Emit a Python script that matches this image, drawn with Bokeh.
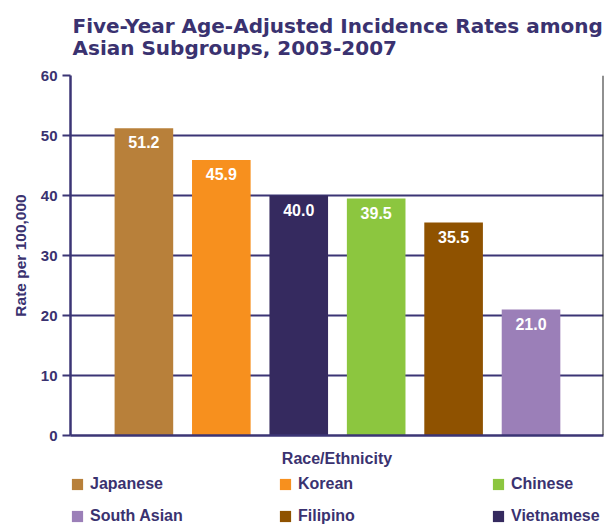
from bokeh.plotting import figure
from bokeh.layouts import column
from bokeh.models import Range1d, Legend, LegendItem, ColumnDataSource, Title, Span, LabelSet, FixedTicker
from bokeh.core.properties import value
from bokeh.embed import file_html
from bokeh.resources import INLINE

categories = ["Japanese", "Korean", "Vietnamese", "Chinese", "Filipino", "South Asian"]
rates = [51.2, 45.9, 40.0, 39.5, 35.5, 21.0]
colors = ["#B8803A", "#F7901E", "#352A5F", "#8CC63F", "#8F5200", "#9B7FB8"]
labels = ["%.1f" % v for v in rates]
y_ticks = [0, 10, 20, 30, 40, 50, 60]

TXT = "#3A3270"
LINE = "#3B3575"
FONT = "Liberation Sans"

src = ColumnDataSource(dict(x=list(range(1, len(categories) + 1)), top=rates,
                            color=colors, name=categories, lab=labels))

p = figure(width=608, height=470, output_backend="svg", toolbar_location=None,
           x_range=Range1d(0.052, 6.936), y_range=Range1d(0, 60),
           min_border_left=70, min_border_right=5, min_border_top=75, min_border_bottom=35)
p.title = Title(text="Five-Year Age-Adjusted Incidence Rates among\nAsian Subgroups, 2003-2007",
                text_font="DejaVu Sans", text_font_size="20px", text_font_style="bold",
                text_color=TXT, align="left", vertical_align="top", offset=2, standoff=27,
                text_line_height=0.93)

p.vbar(x="x", top="top", width=0.757, fill_color="color", line_color=None, source=src)

p.add_layout(LabelSet(x="x", y="top", text="lab", source=src, text_color="white",
                      text_font=value(FONT), text_font_size="16px", text_font_style="bold",
                      text_align="center", text_baseline="top", y_offset=-8))

p.outline_line_color = None
p.add_layout(Span(location=6.936, dimension="height", line_color="#222222", line_width=2))

p.xgrid.grid_line_color = None
p.ygrid.grid_line_color = LINE
p.ygrid.grid_line_width = 2
p.yaxis.ticker = FixedTicker(ticks=y_ticks)
p.yaxis.axis_line_color = LINE
p.yaxis.axis_line_width = 2.5
p.yaxis.major_tick_line_color = LINE
p.yaxis.major_tick_line_width = 2
p.yaxis.major_tick_out = 8
p.yaxis.major_tick_in = 0
p.yaxis.minor_tick_line_color = None
p.yaxis.major_label_text_font = FONT
p.yaxis.major_label_text_font_size = "15px"
p.yaxis.major_label_text_font_style = "bold"
p.yaxis.major_label_text_color = TXT
p.yaxis.major_label_standoff = 5
p.yaxis.axis_label = "Rate per 100,000"
p.yaxis.axis_label_text_font = FONT
p.yaxis.axis_label_text_font_size = "15.5px"
p.yaxis.axis_label_text_font_style = "bold"
p.yaxis.axis_label_text_color = TXT
p.yaxis.axis_label_standoff = 9

p.xaxis.ticker = FixedTicker(ticks=[])
p.xaxis.major_label_text_font_size = "0px"
p.xaxis.axis_line_color = LINE
p.xaxis.axis_line_width = 2.5
p.xaxis.major_tick_line_color = None
p.xaxis.major_tick_out = 0
p.xaxis.minor_tick_line_color = None
p.xaxis.minor_tick_out = 0
p.xaxis.axis_label = "Race/Ethnicity"
p.xaxis.axis_label_text_font = FONT
p.xaxis.axis_label_text_font_size = "16px"
p.xaxis.axis_label_text_font_style = "bold"
p.xaxis.axis_label_text_color = TXT
p.xaxis.axis_label_standoff = 14

# legend strip below the chart (its frame is aligned with the chart's frame)
q = figure(width=608, height=55, output_backend="svg", toolbar_location=None,
           x_range=Range1d(0, 1), y_range=Range1d(100, 200),
           min_border_left=70, min_border_right=5, min_border_top=0, min_border_bottom=0)
q.axis.visible = False
q.grid.visible = False
q.outline_line_color = None
rq = q.vbar(x="x", top="top", width=0.757, fill_color="color", line_color=None, source=src)

columns = [[0, 5], [1, 4], [3, 2]]
xs = [0, 208, 421]
for col, lx in zip(columns, xs):
    items = [LegendItem(label=categories[i], renderers=[rq], index=i) for i in col]
    leg = Legend(items=items, location=(lx, 0), orientation="vertical",
                 glyph_width=14, glyph_height=14, label_height=18, spacing=14,
                 label_standoff=6, padding=0, margin=0, border_line_color=None,
                 background_fill_alpha=0, label_text_font=FONT,
                 label_text_font_size="16px", label_text_font_style="bold",
                 label_text_color=TXT)
    q.add_layout(leg, "center")

layout = column(p, q, spacing=0)
open("out.html", "w").write(file_html(layout, INLINE))
